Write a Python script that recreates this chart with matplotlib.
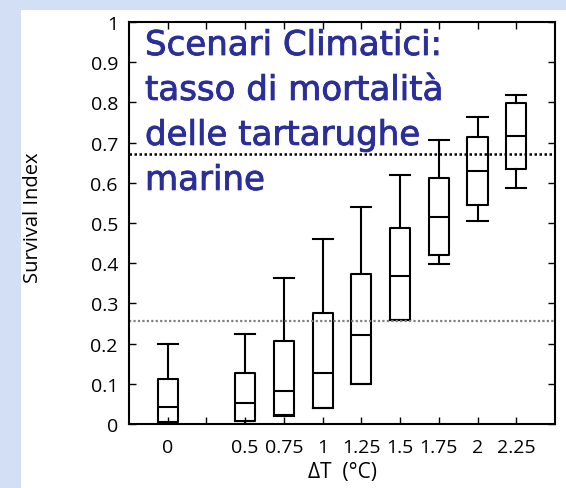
import matplotlib
matplotlib.use("Agg")
import matplotlib.pyplot as plt
import matplotlib.patheffects as pe
from matplotlib.patches import Rectangle

# Data
delta_t = [0, 0.5, 0.75, 1, 1.25, 1.5, 1.75, 2, 2.25]
whislo = [0.0, 0.0, 0.02, 0.039, 0.10, 0.258, 0.398, 0.506, 0.588]
q1 = [0.005, 0.008, 0.022, 0.039, 0.10, 0.258, 0.421, 0.544, 0.634]
med = [0.043, 0.051, 0.083, 0.128, 0.222, 0.367, 0.516, 0.629, 0.717]
q3 = [0.113, 0.128, 0.207, 0.277, 0.374, 0.488, 0.612, 0.713, 0.799]
whishi = [0.199, 0.224, 0.364, 0.46, 0.54, 0.619, 0.706, 0.764, 0.819]
thresholds = [0.671, 0.255]
xtick_vals = [0, 0.25, 0.5, 0.75, 1, 1.25, 1.5, 1.75, 2, 2.25]
xtick_labels = ["0", "", "0.5", "0.75", "1", "1.25", "1.5", "1.75", "2", "2.25"]
ytick_vals = [0, 0.1, 0.2, 0.3, 0.4, 0.5, 0.6, 0.7, 0.8, 0.9, 1]
ytick_labels = ["0", "0.1", "0.2", "0.3", "0.4", "0.5", "0.6", "0.7", "0.8", "0.9", "1"]
title_text = "Scenari Climatici:\ntasso di mortalità\ndelle tartarughe\nmarine"

W, H = 566, 489
fig = plt.figure(figsize=(W / 100, H / 100), dpi=100)
fig.patch.set_facecolor("#d3dff5")
fig.patches.append(Rectangle((21 / W, 0), 1 - 21 / W, 1 - 11 / H,
                             transform=fig.transFigure, facecolor="white",
                             edgecolor="none", zorder=-10))

ax = fig.add_axes([129 / W, 1 - 425 / H, (555 - 129) / W, (425 - 23) / H])
ax.set_facecolor("white")

stats = []
for i in range(len(delta_t)):
    stats.append(dict(whislo=whislo[i], q1=q1[i], med=med[i], q3=q3[i],
                      whishi=whishi[i], fliers=[]))
bw = 0.13
lp = dict(color="black", linewidth=1.5)
ax.bxp(stats, positions=delta_t, widths=bw, capwidths=bw, showfliers=False,
       boxprops=lp, medianprops=lp, whiskerprops=lp, capprops=lp,
       manage_ticks=False)

ax.axhline(thresholds[0], color="black", linestyle=(0, (1, 1)), linewidth=1.8)
ax.axhline(thresholds[1], color="#808080", linestyle=(0, (1, 1)), linewidth=1.6)

ax.set_xlim(-0.25, 2.5)
ax.set_ylim(0, 1)
font = ["Open Sans", "DejaVu Sans"]
ax.set_xticks(xtick_vals)
ax.set_xticklabels(xtick_labels, fontsize=14, family=font)
ax.set_yticks(ytick_vals)
ax.set_yticklabels(ytick_labels, fontsize=14, family=font)
ax.tick_params(direction="in", length=5, width=1, top=True, right=True)
ax.tick_params(axis="x", pad=10)
ax.tick_params(axis="y", pad=8)
for s in ax.spines.values():
    s.set_linewidth(1.5)

ax.set_xlabel("ΔT  (°C)", fontsize=15, family=font)
ax.xaxis.set_label_coords(0.5, -0.092)
ax.set_ylabel("Survival Index", fontsize=14.5, family=font)
ax.yaxis.set_label_coords(-0.202, 0.516)

title_color = "#2a2e9b"
ax.text(145 / W, 1 - 30 / H, title_text, transform=fig.transFigure,
        fontsize=24.5, color=title_color, family=["DejaVu Sans"], va="top",
        ha="left", linespacing=1.46,
        path_effects=[pe.withStroke(linewidth=0.6, foreground=title_color)])

fig.savefig("out.png", dpi=100, facecolor=fig.get_facecolor())
